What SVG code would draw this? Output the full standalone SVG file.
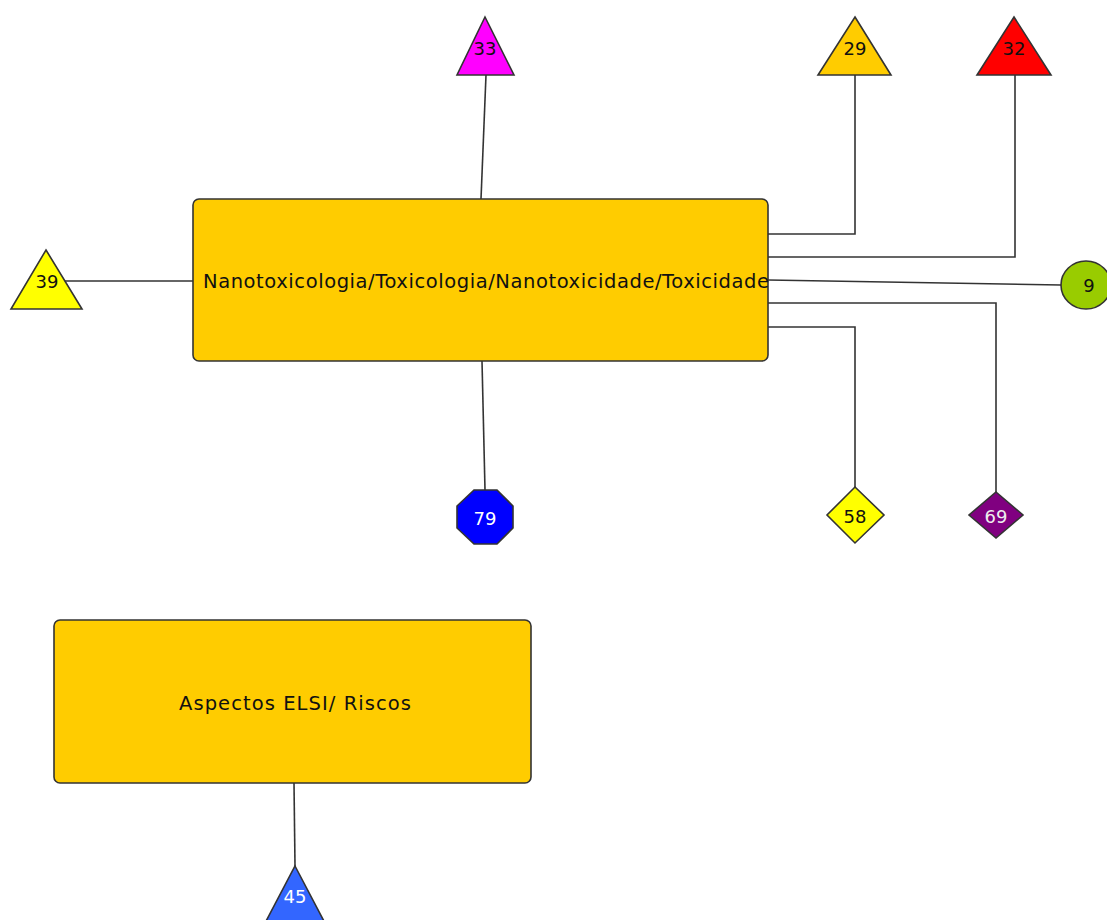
<svg xmlns="http://www.w3.org/2000/svg" width="1107" height="920" viewBox="0 0 1107 920">
  <style>
    .edge { fill: none; stroke: #333333; stroke-width: 1.6; }
    .shape { stroke: #333333; stroke-width: 1.6; }
    .box { fill: #FFCC00; stroke: #333333; stroke-width: 1.6; }
    .lbl { font-family: "DejaVu Sans", "Liberation Sans", sans-serif; font-size: 18px; text-anchor: middle; dominant-baseline: central; fill: #111111; }
    .big { font-family: "DejaVu Sans", "Liberation Sans", sans-serif; font-size: 19.5px; text-anchor: middle; dominant-baseline: central; fill: #111111; }
    .light { fill: #ffffff; }
  </style>
  <rect width="1107" height="920" fill="#ffffff"/>

  <!-- connectors -->
  <g id="edges">
    <line class="edge" x1="486" y1="75" x2="481" y2="199"/>
    <polyline class="edge" points="768,234 855,234 855,75"/>
    <polyline class="edge" points="768,257 1015,257 1015,75"/>
    <line class="edge" x1="65" y1="281" x2="193" y2="281"/>
    <line class="edge" x1="768" y1="280" x2="1061" y2="285"/>
    <polyline class="edge" points="768,303 996,303 996,492"/>
    <polyline class="edge" points="768,327 855,327 855,487"/>
    <line class="edge" x1="482" y1="361" x2="485" y2="490"/>
    <line class="edge" x1="294" y1="783" x2="295" y2="866"/>
  </g>

  <!-- topic boxes -->
  <g id="n-nanotox">
    <rect class="box" x="193" y="199" width="575" height="162" rx="6"/>
    <text class="big" x="486" y="281" textLength="566" lengthAdjust="spacing">Nanotoxicologia/Toxicologia/Nanotoxicidade/Toxicidade</text>
  </g>
  <g id="n-elsi">
    <rect class="box" x="54" y="620" width="477" height="163" rx="6"/>
    <text class="big" x="295" y="703" textLength="232" lengthAdjust="spacing">Aspectos ELSI/ Riscos</text>
  </g>

  <!-- leaf nodes -->
  <g id="n33">
    <polygon class="shape" fill="#FF00FF" points="485,17 514,75 457,75"/>
    <text class="lbl" x="485" y="48">33</text>
  </g>
  <g id="n29">
    <polygon class="shape" fill="#FFCC00" points="855,17 891,75 818,75"/>
    <text class="lbl" x="855" y="48">29</text>
  </g>
  <g id="n32">
    <polygon class="shape" fill="#FF0000" points="1014,17 1051,75 977,75"/>
    <text class="lbl" x="1014" y="48">32</text>
  </g>
  <g id="n39">
    <polygon class="shape" fill="#FFFF00" points="46,250 82,309 11,309"/>
    <text class="lbl" x="47" y="281">39</text>
  </g>
  <g id="n9">
    <ellipse class="shape" fill="#99CC00" cx="1086" cy="285" rx="25" ry="24"/>
    <text class="lbl" x="1089" y="285">9</text>
  </g>
  <g id="n79">
    <polygon class="shape" fill="#0000FF" points="474,490 497,490 513,506 513,528 497,544 474,544 457,528 457,506"/>
    <text class="lbl light" x="485" y="518">79</text>
  </g>
  <g id="n58">
    <polygon class="shape" fill="#FFFF00" points="855,487 884,515 855,543 827,515"/>
    <text class="lbl" x="855" y="516">58</text>
  </g>
  <g id="n69">
    <polygon class="shape" fill="#800080" points="996,492 1023,515 996,538 969,515"/>
    <text class="lbl" x="996" y="516" style="fill:#eeeeee">69</text>
  </g>
  <g id="n45">
    <polygon class="shape" fill="#3366FF" points="295,866 326,925 264,925"/>
    <text class="lbl light" x="295" y="896">45</text>
  </g>
</svg>
